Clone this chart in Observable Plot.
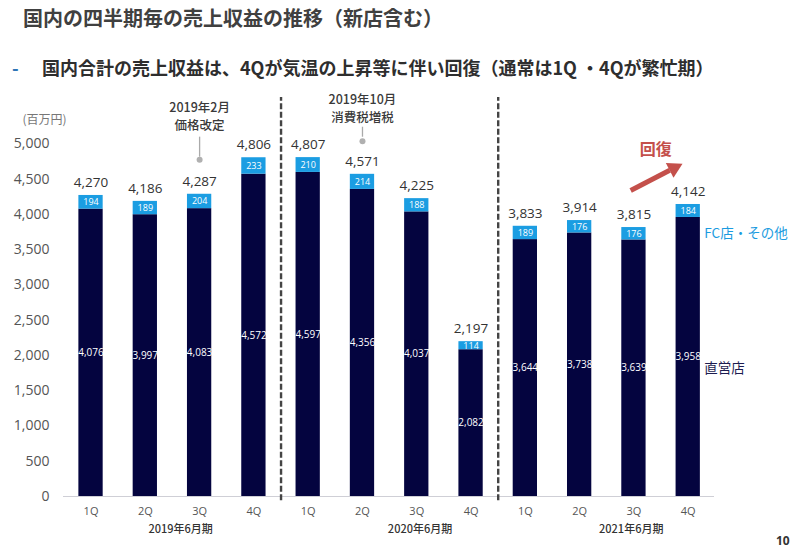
<!DOCTYPE html>
<html>
<head>
<meta charset="utf-8">
<script src="https://cdn.jsdelivr.net/npm/d3@7"></script>
<script src="https://cdn.jsdelivr.net/npm/@observablehq/plot@0.6"></script>
<style>
  html, body { margin: 0; padding: 0; background: #fff; }
  #wrap { position: relative; width: 800px; height: 553px; overflow: hidden; }
  #chart { position: absolute; left: 0; top: 0; }
  .cjk { font-family: "Noto Sans CJK JP", "Noto Sans", sans-serif; }
  #title { position: absolute; left: 23px; top: 5px; font-size: 20px; line-height: 26px; font-weight: bold; color: #404040; white-space: nowrap; }
  #sub { position: absolute; left: 42px; top: 54px; font-size: 18px; line-height: 26px; font-weight: bold; color: #2e2e2e; white-space: nowrap; }
  #dash { position: absolute; left: 12px; top: 54px; font-size: 18px; line-height: 26px; font-weight: bold; color: #2e75b6; }
  #page { position: absolute; left: 776px; top: 532px; font-size: 12px; line-height: 18px; font-weight: bold; color: #333; font-family: "Open Sans", sans-serif; }
</style>
</head>
<body>
<div id="wrap">
  <div id="chart"></div>
  <div id="title" class="cjk">国内の四半期毎の売上収益の推移（新店含む）</div>
  <div id="dash" class="cjk">-</div>
  <div id="sub" class="cjk">国内合計の売上収益は、4Qが気温の上昇等に伴い回復（通常は1Q ・4Qが繁忙期）</div>
  <div id="page">10</div>
</div>
<script>
// ---- data ----
const periods = ["2019年6月期", "2020年6月期", "2021年6月期"];
const quarters = ["1Q", "2Q", "3Q", "4Q"];
const direct = [4076, 3997, 4083, 4572, 4597, 4356, 4037, 2082, 3644, 3738, 3639, 3958];
const fcOther = [194, 189, 204, 233, 210, 214, 188, 114, 189, 176, 176, 184];
const totals = [4270, 4186, 4287, 4806, 4807, 4571, 4225, 2197, 3833, 3914, 3815, 4142];
const yTicks = [0, 500, 1000, 1500, 2000, 2500, 3000, 3500, 4000, 4500, 5000];
const separators = [3.5, 7.5];
const noteLines = [
  {x: 2, text: "2019年2月", y: 5510},
  {x: 2, text: "価格改定", y: 5250},
  {x: 5, text: "2019年10月", y: 5628},
  {x: 5, text: "消費税増税", y: 5368}
];
const noteMarkers = [
  {x: 2, dotY: 4776, lineY1: 4813, lineY2: 5097},
  {x: 5, dotY: 5040, lineY1: 5096, lineY2: 5238}
];
const arrowShaft = [{x1: 9.94, y1: 4340, x2: 10.66, y2: 4628}];
const arrowHead = [{x: 10.737, y: 4658}];
const recoveryLabel = [{x: 10.40, y: 4922, text: "回復"}];
const seriesLabels = [
  {x: 11, y: 3730, text: "FC店・その他", color: "#1a9be0"},
  {x: 11, y: 1820, text: "直営店", color: "#1c1c50"}
];
const periodX = [1.65, 6.06, 9.95];

// ---- styling ----
const navy = "#04043f";
const blue = "#1b9de2";
const red = "#c4504b";
const fmt = d3.format(",");
const cjk = "'Noto Sans CJK JP', sans-serif";
const num = "'Open Sans', 'Noto Sans CJK JP', sans-serif";

const rows = direct.map((d, i) => ({
  i,
  period: periods[Math.floor(i / 4)],
  q: quarters[i % 4],
  direct: d,
  fc: fcOther[i],
  total: totals[i]
}));
const periodRows = periods.map((p, k) => ({x: periodX[k], text: p}));

const chart = Plot.plot({
  width: 800,
  height: 553,
  marginLeft: 63,
  marginRight: 86,
  marginTop: 143.5,
  marginBottom: 57,
  style: {fontFamily: num, background: "transparent", overflow: "visible"},
  x: {domain: [-0.507, 11.484], axis: null},
  y: {domain: [0, 5000], axis: null},
  marks: [
    Plot.axisY(yTicks, {tickSize: 0, tickPadding: 14, tickFormat: fmt, fontSize: 14, fill: "#555", fontFamily: num}),
    Plot.text(["(百万円)"], {frameAnchor: "top-left", dx: -41, dy: -29, textAnchor: "start", fontSize: 12, fill: "#777", fontFamily: cjk}),
    Plot.ruleY([0], {stroke: "#cfcfd6", strokeWidth: 1.2}),
    // bars
    Plot.rectY(rows, {x1: d => d.i - 0.5, x2: d => d.i + 0.5, y1: 0, y2: "direct", fill: navy, insetLeft: 15, insetRight: 15}),
    Plot.rectY(rows, {x1: d => d.i - 0.5, x2: d => d.i + 0.5, y1: "direct", y2: d => d.direct + d.fc, fill: blue, insetLeft: 15, insetRight: 15}),
    // value labels
    Plot.text(rows, {x: "i", y: d => d.direct / 2, text: d => fmt(d.direct), fill: "white", fontSize: 10}),
    Plot.text(rows, {x: "i", y: d => d.direct + d.fc / 2, text: d => fmt(d.fc), fill: "white", fontSize: 9}),
    Plot.text(rows, {x: "i", y: "total", text: d => fmt(d.total), dy: -13, fill: "#333", fontSize: 13.5}),
    // separators
    Plot.ruleX(separators, {y1: -60, y2: 5660, stroke: "#444", strokeWidth: 2.4, strokeDasharray: "6,2.5"}),
    // category labels
    Plot.text(rows, {x: "i", frameAnchor: "bottom", dy: 18, text: "q", fontSize: 11, fill: "#555"}),
    Plot.text(periodRows, {x: "x", frameAnchor: "bottom", dy: 36, text: "text", fontSize: 11, fontWeight: 500, fill: "#333", fontFamily: cjk}),
    // annotations
    Plot.ruleX(noteMarkers, {x: "x", y1: "lineY1", y2: "lineY2", stroke: "#aaa", strokeWidth: 1.3}),
    Plot.dot(noteMarkers, {x: "x", y: "dotY", r: 3, fill: "#b0b0b0"}),
    Plot.text(noteLines, {x: "x", y: "y", text: "text", fontSize: 12.5, fill: "#3a3a3a", fontWeight: 500, fontFamily: cjk}),
    // recovery arrow
    Plot.link(arrowShaft, {x1: "x1", y1: "y1", x2: "x2", y2: "y2", stroke: red, strokeWidth: 5}),
    Plot.dot(arrowHead, {x: "x", y: "y", symbol: "triangle", r: 6.2, fill: red, rotate: 62.7}),
    Plot.text(recoveryLabel, {x: "x", y: "y", text: "text", fontSize: 16, fontWeight: "bold", fill: red, fontFamily: cjk}),
    // series labels
    Plot.text(seriesLabels, {x: "x", y: "y", text: "text", dx: 16, textAnchor: "start", fontSize: 13.5, fill: d => d.color, fontFamily: cjk})
  ]
});

document.getElementById("chart").appendChild(chart);
</script>
</body>
</html>
